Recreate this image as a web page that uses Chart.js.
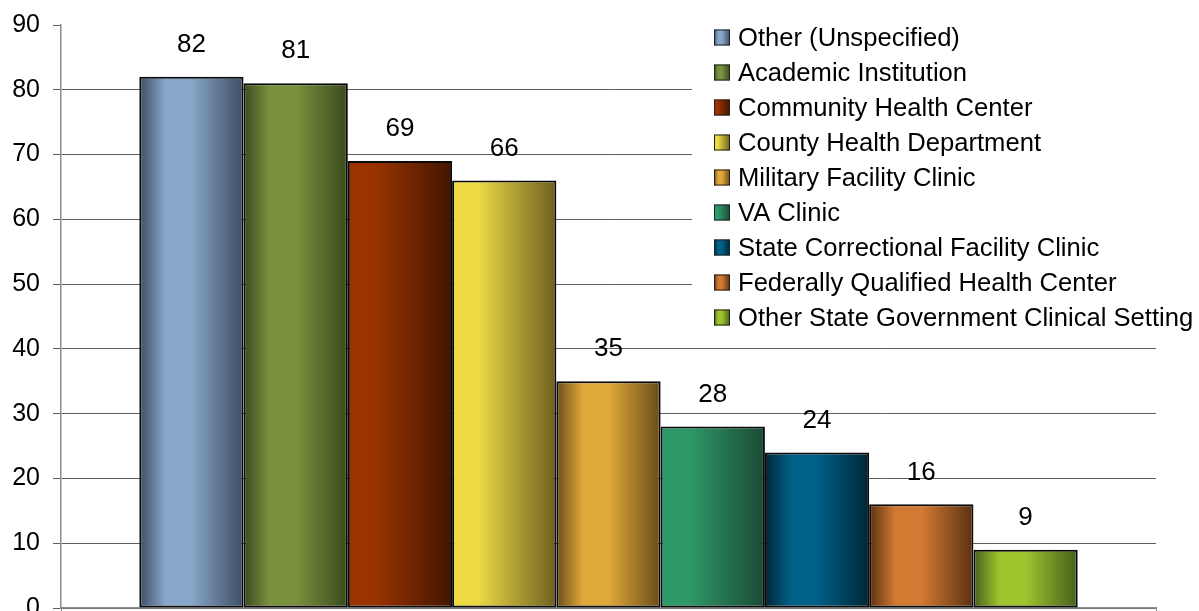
<!DOCTYPE html>
<html>
<head>
<meta charset="utf-8">
<script src="https://cdn.jsdelivr.net/npm/chart.js@4"></script>
<style>
body { margin: 0; background: #fff; overflow: hidden; }
#contenedor { width: 1199px; height: 616px; }
</style>
</head>
<body>
<div id="contenedor"><canvas id="grafica"></canvas></div>
<script>
var categorias = [
	'Other (Unspecified)',
	'Academic Institution',
	'Community Health Center',
	'County Health Department',
	'Military Facility Clinic',
	'VA Clinic',
	'State Correctional Facility Clinic',
	'Federally Qualified Health Center',
	'Other State Government Clinical Setting'
];
var valores = [82, 81, 69, 66, 35, 28, 24, 16, 9];
var ticksY = [0, 10, 20, 30, 40, 50, 60, 70, 80, 90];

// colores de cada barra (claro = centro, oscuro = bordes)
var coloresClaros = ['#87a6c9', '#7a913d', '#9a3300', '#ecd944', '#e0a838', '#2f9a69', '#006088', '#d27a32', '#9ec42e'];
var coloresOscuros = ['#3d4d63', '#3a4a1e', '#421600', '#6e6020', '#6a4c1a', '#1a4a34', '#002636', '#5a3010', '#46601a'];
var tipoDegradado = ['centro', 'centro', 'izquierda', 'izquierda', 'centro', 'izquierda', 'centro', 'centro', 'centro'];

var ctx;
var chart;

function degradado(c, x0, x1, i) {
	var g = c.createLinearGradient(x0, 0, x1, 0);
	if (tipoDegradado[i] == 'centro') {
		g.addColorStop(0, coloresOscuros[i]);
		g.addColorStop(0.25, coloresClaros[i]);
		g.addColorStop(0.5, coloresClaros[i]);
		g.addColorStop(1, coloresOscuros[i]);
	} else {
		g.addColorStop(0, coloresClaros[i]);
		g.addColorStop(0.25, coloresClaros[i]);
		g.addColorStop(1, coloresOscuros[i]);
	}
	return g;
}

// pone el degradado horizontal en cada barra antes de dibujarla
var pluginDegradado = {
	id: 'degradado',
	beforeDatasetsDraw: function(chart) {
		chart.data.datasets.forEach(function(ds, i) {
			var bar = chart.getDatasetMeta(i).data[0];
			var x0 = bar.x - bar.width / 2;
			var x1 = bar.x + bar.width / 2;
			bar.options = Object.assign({}, bar.options, {backgroundColor: degradado(chart.ctx, x0, x1, i)});
		});
	}
};

// numeros encima de las barras
var pluginEtiquetas = {
	id: 'etiquetas',
	afterDatasetsDraw: function(chart) {
		var c = chart.ctx;
		c.save();
		c.font = '26px "Liberation Sans", Arial, sans-serif';
		c.fillStyle = '#000';
		c.textAlign = 'center';
		c.textBaseline = 'middle';
		chart.data.datasets.forEach(function(ds, i) {
			var bar = chart.getDatasetMeta(i).data[0];
			c.fillText(ds.data[0], bar.x, bar.y - 32);
		});
		c.restore();
	}
};

// leyenda encima del area de la grafica, con fondo blanco
var pluginLeyenda = {
	id: 'leyenda',
	afterDraw: function(chart) {
		var c = chart.ctx;
		c.save();
		c.fillStyle = '#fff';
		c.fillRect(692, 14, 507, 328);
		c.font = '25.6px "Liberation Sans", Arial, sans-serif';
		c.textBaseline = 'middle';
		chart.data.datasets.forEach(function(ds, i) {
			var y = 37.5 + i * 35;
			c.fillStyle = degradado(c, 714, 730, i);
			c.fillRect(714, y - 8, 16, 16);
			c.strokeStyle = '#222';
			c.lineWidth = 1;
			c.strokeRect(714.5, y - 7.5, 15, 15);
			c.fillStyle = '#000';
			c.fillText(ds.label, 738, y + 1);
		});
		c.restore();
	}
};

window.addEventListener('DOMContentLoaded', function() {
	ctx = document.getElementById('grafica').getContext('2d');

	var datasets = categorias.map(function(nombre, i) {
		return {
			label: nombre,
			data: [valores[i]],
			backgroundColor: coloresClaros[i],
			borderColor: '#0a0a0a',
			borderWidth: 2,
			borderSkipped: false
		};
	});

	chart = new Chart(ctx, {
		type: 'bar',
		data: {
			labels: [''],
			datasets: datasets
		},
		plugins: [pluginDegradado, pluginEtiquetas, pluginLeyenda],
		options: {
			responsive: true,
			maintainAspectRatio: false,
			animation: false,
			categoryPercentage: 0.857,
			barPercentage: 1.0,
			layout: {
				padding: {top: 25, right: 43, left: 0, bottom: 0}
			},
			plugins: {
				legend: {display: false},
				tooltip: {enabled: false}
			},
			scales: {
				x: {
					ticks: {display: false},
					grid: {
						display: true,
						drawOnChartArea: false,
						tickLength: 8,
						tickColor: '#808080'
					},
					border: {color: '#8c8c8c', width: 1.5},
					afterFit: function(scale) { scale.height = 8; }
				},
				y: {
					min: 0,
					max: 90,
					afterBuildTicks: function(scale) {
						scale.ticks = ticksY.map(function(v) { return {value: v}; });
					},
					ticks: {
						color: '#000',
						padding: 13,
						font: {family: '"Liberation Sans", Arial, sans-serif', size: 25}
					},
					grid: {
						color: function(c) { return c.tick && c.tick.value === 90 ? 'rgba(0,0,0,0)' : '#5e5e5e'; },
						tickColor: '#5e5e5e',
						tickLength: 8,
						lineWidth: 1
					},
					border: {color: '#8c8c8c', width: 1.5},
					afterFit: function(scale) {
						scale.width = 61;
						scale.paddingTop = 0;
						scale.paddingBottom = 0;
					}
				}
			}
		}
	});
});
</script>
</body>
</html>
